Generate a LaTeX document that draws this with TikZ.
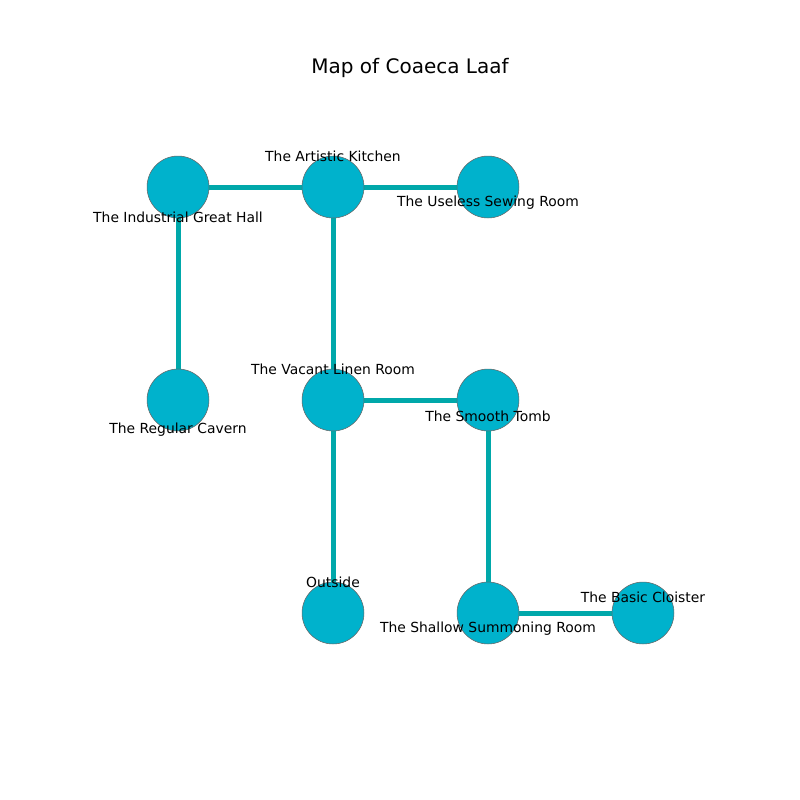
\documentclass[tikz,border=0pt]{standalone}
\usepackage{fontspec}
\setmainfont{DejaVu Sans}
\usetikzlibrary{positioning,backgrounds}
\definecolor{roomfill}{RGB}{0,178,204}
\definecolor{passage}{RGB}{0,168,170}
\tikzset{
  room/.style={circle,draw=gray!80!black,line width=0.4pt,fill=roomfill,minimum size=44.6pt,inner sep=0pt},
  roomlabel/.style={font=\fontsize{10pt}{12pt}\selectfont,inner sep=0pt},
  link/.style={draw=passage,line width=3.6pt}
}

\begin{document}
\begin{tikzpicture}[x=0.72pt,y=-0.72pt]
    \useasboundingbox (0,0) rectangle (800,800);
    \node[font=\fontsize{14.4pt}{17pt}\selectfont] (title) at (410,68) {Map of Coaeca Laaf};
    % rooms
    \node[room] (industrial) at (178,187) {};
    \node[room] (artistic) at (333,187) {};
    \node[room] (sewing) at (488,187) {};
    \node[room] (cavern) at (178,400) {};
    \node[room] (linen) at (333,400) {};
    \node[room] (tomb) at (488,400) {};
    \node[room] (outside) at (333,613) {};
    \node[room] (summoning) at (488,613) {};
    \node[room] (cloister) at (643,613) {};
    % passages
    \begin{scope}[on background layer]
    \path[link]
    (industrial) edge (artistic)
    (artistic) edge (sewing)
    (industrial) edge (cavern)
    (artistic) edge (linen)
    (linen) edge (tomb)
    (linen) edge (outside)
    (tomb) edge (summoning)
    (summoning) edge (cloister)
    ;
    \end{scope}
    % labels
    \node[roomlabel] (lindustrial) at ([yshift=-21.6pt]industrial) {The Industrial Great Hall};
    \node[roomlabel] (lartistic) at ([yshift=22.3pt]artistic) {The Artistic Kitchen};
    \node[roomlabel] (lsewing) at ([yshift=-11.4pt]sewing) {The Useless Sewing Room};
    \node[roomlabel] (lcavern) at ([yshift=-21.6pt]cavern) {The Regular Cavern};
    \node[roomlabel] (llinen) at ([yshift=22.3pt]linen) {The Vacant Linen Room};
    \node[roomlabel] (ltomb) at ([yshift=-11.4pt]tomb) {The Smooth Tomb};
    \node[roomlabel] (loutside) at ([yshift=22.3pt]outside) {Outside};
    \node[roomlabel] (lsummoning) at ([yshift=-11.4pt]summoning) {The Shallow Summoning Room};
    \node[roomlabel] (lcloister) at ([yshift=11.5pt]cloister) {The Basic Cloister};
  \end{tikzpicture}
\end{document}
